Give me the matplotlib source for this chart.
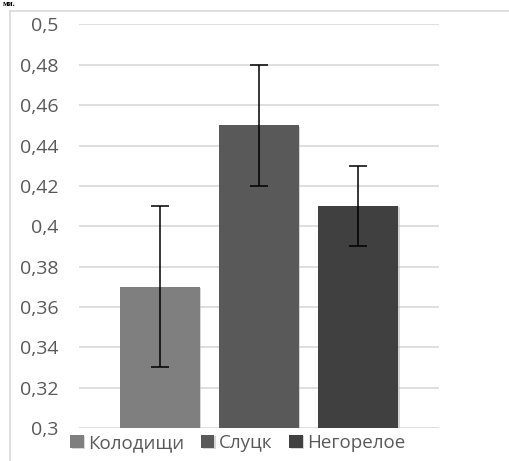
import numpy as np
import matplotlib.pyplot as plt
import matplotlib.patheffects as pe

sites = ["Колодищи", "Слуцк", "Негорелое"]
values = [0.37, 0.45, 0.41]
errors = [0.04, 0.03, 0.02]
colors = ["#7f7f7f", "#595959", "#404040"]
yticks = [0.3, 0.32, 0.34, 0.36, 0.38, 0.4, 0.42, 0.44, 0.46, 0.48, 0.5]

plt.rcParams['font.family'] = ['Open Sans', 'DejaVu Sans']

fig = plt.figure(figsize=(5.09, 4.61), dpi=100)
ax = fig.add_axes([0.1552, 0.0716, 0.7073, 0.8753])

# chart area border (top and left visible)
fig.add_artist(plt.Line2D([10/509, 10/509], [0, 1 - 11/461], color="#d9d9d9", lw=1.2))
fig.add_artist(plt.Line2D([10/509, 1], [1 - 11/461, 1 - 11/461], color="#d9d9d9", lw=1.2))
fig.text(0.005, 0.999, "ми.", fontsize=6, fontweight="bold", family="Liberation Serif",
         va="top", ha="left")

x = np.arange(len(sites))
for i in range(len(sites)):
    ax.bar(x[i], values[i], width=0.81, color=colors[i], label=sites[i], zorder=3,
           path_effects=[pe.SimplePatchShadow(offset=(1, -1), shadow_rgbFace="#bbbbbb", alpha=0.6), pe.Normal()])
    ax.errorbar(x[i], values[i], yerr=errors[i], fmt="none", ecolor="black",
                elinewidth=1.1, capsize=6.5, capthick=1.1, zorder=4)

ax.set_xlim(-0.818, 2.818)
ax.set_ylim(0.3, 0.5)
ax.set_yticks(yticks)
ax.set_yticklabels([("%g" % t).replace(".", ",") for t in yticks])
ax.set_xticks([])
ax.grid(axis="y", color="#d9d9d9", lw=1.2, zorder=0)
for s in ax.spines.values():
    s.set_visible(False)
ax.tick_params(axis="y", length=0, pad=14.5, labelsize=14, labelcolor="#595959")

fig.legend(loc="center", bbox_to_anchor=(238/509, 1 - 443/461), ncol=3, frameon=False,
           fontsize=13.5, handlelength=0.7, handleheight=0.7, handletextpad=0.25,
           columnspacing=0.9, labelcolor="#595959", borderaxespad=0)

fig.savefig("out.png", dpi=100)
